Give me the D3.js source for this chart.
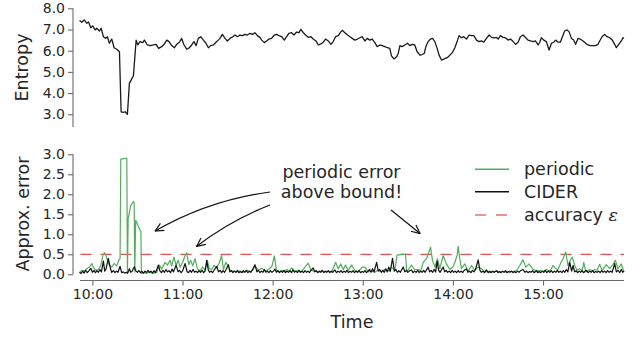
<!DOCTYPE html>
<html><head><meta charset="utf-8">
<script src="https://cdn.jsdelivr.net/npm/d3@7"></script>
<style>
html,body{margin:0;padding:0;background:#fff;}
svg{display:block;font-family:"DejaVu Sans",sans-serif;}
</style></head>
<body>
<svg id="chart" width="644" height="339"></svg>
<script>
// minutes relative to 10:00, value
const entropy = [[-8.6,7.42],[-7.1,7.34],[-5.5,7.45],[-3.7,7.29],[-2.6,7.36],[-1.1,7.08],[0.2,7.17],[1.8,6.98],[2.9,7.06],[4.7,6.93],[5.8,7.06],[7.3,6.66],[8.9,6.58],[10.0,6.66],[11.3,6.35],[12.9,6.55],[14.4,6.14],[16.2,6.07],[18.0,5.95],[19.1,3.12],[20.6,3.09],[21.8,3.12],[23.3,3.0],[24.6,4.46],[26.2,4.67],[27.3,4.82],[29.1,6.50],[30.2,6.27],[31.7,6.43],[33.5,6.38],[34.6,6.50],[36.6,6.27],[38.4,6.24],[40.6,6.27],[42.4,6.30],[44.1,6.11],[46.1,6.19],[47.7,6.30],[49.5,6.50],[51.0,6.43],[52.8,6.24],[54.6,6.14],[56.1,6.30],[57.9,6.40],[59.4,6.58],[61.0,6.27],[62.8,6.07],[64.5,6.14],[66.1,6.27],[67.6,6.43],[69.0,6.24],[70.5,6.58],[72.1,6.66],[73.9,6.50],[75.6,6.35],[77.2,6.14],[78.7,6.24],[80.5,6.27],[82.3,6.40],[83.8,6.50],[84.9,6.58],[86.5,6.77],[88.3,6.58],[89.8,6.46],[91.6,6.58],[93.4,6.66],[94.9,6.74],[96.5,6.66],[98.2,6.74],[100.0,6.71],[101.6,6.77],[103.1,6.74],[104.9,6.82],[106.4,6.77],[108.2,6.85],[109.8,6.71],[111.5,6.63],[112.7,6.50],[114.4,6.38],[116.0,6.46],[117.5,6.55],[119.3,6.58],[121.1,6.74],[122.6,6.77],[124.2,6.71],[126.0,6.66],[127.7,6.50],[129.3,6.66],[130.8,6.82],[132.6,6.85],[134.2,6.74],[135.9,6.88],[137.5,6.85],[138.8,7.01],[140.4,6.85],[141.9,6.74],[143.7,6.63],[145.5,6.66],[147.0,6.55],[148.8,6.46],[150.4,6.27],[152.1,6.32],[153.7,6.40],[155.2,6.55],[157.0,6.46],[158.8,6.30],[160.3,6.43],[161.9,6.66],[163.7,6.71],[165.0,6.85],[166.3,6.96],[168.1,6.85],[169.9,6.74],[171.4,6.66],[173.0,6.58],[174.7,6.50],[176.5,6.55],[178.1,6.61],[179.6,6.66],[181.4,6.46],[182.9,6.58],[184.7,6.50],[186.3,6.55],[188.0,6.38],[189.6,6.19],[191.4,6.27],[192.9,6.24],[194.7,6.19],[196.5,6.14],[198.0,6.11],[199.1,5.76],[200.7,5.61],[202.5,5.71],[203.6,5.87],[204.7,6.24],[206.2,6.19],[208.0,6.27],[209.8,6.35],[211.3,6.24],[212.9,6.30],[214.6,6.27],[216.2,5.95],[218.0,5.79],[219.5,5.82],[220.9,5.87],[222.0,6.19],[223.5,6.43],[225.1,6.55],[226.4,6.58],[228.0,6.43],[229.5,6.11],[230.8,5.79],[232.4,5.56],[234.2,5.61],[236.2,5.67],[238.0,5.79],[239.7,5.92],[241.3,6.14],[242.8,6.43],[244.1,6.71],[245.7,6.61],[247.2,6.66],[249.0,6.55],[250.8,6.74],[252.4,6.71],[253.9,6.71],[255.7,6.50],[257.4,6.43],[259.0,6.46],[260.6,6.40],[262.3,6.58],[264.1,6.74],[265.7,6.63],[267.2,6.61],[269.0,6.63],[270.1,6.55],[271.6,6.71],[273.4,6.63],[275.0,6.61],[276.7,6.50],[278.3,6.55],[280.1,6.43],[281.8,6.30],[283.4,6.40],[284.9,6.66],[286.7,6.74],[288.5,6.61],[290.0,6.50],[291.6,6.46],[293.4,6.43],[294.9,6.46],[296.7,6.27],[297.8,6.40],[298.9,6.61],[300.5,6.50],[302.2,6.43],[304.0,6.03],[305.6,6.35],[307.1,6.40],[308.4,6.50],[310.0,6.40],[311.5,6.40],[312.9,6.66],[314.4,6.93],[316.0,6.98],[317.3,6.90],[318.9,6.58],[320.4,6.50],[321.7,6.30],[323.3,6.58],[324.8,6.55],[326.6,6.46],[328.4,6.35],[329.9,6.27],[331.5,6.24],[333.3,6.24],[335.0,6.24],[336.6,6.30],[337.7,6.46],[339.3,6.66],[341.0,6.77],[342.6,6.66],[344.4,6.61],[346.1,6.50],[347.7,6.30],[348.8,6.14],[350.4,6.30],[352.1,6.46],[353.2,6.61],[353.9,6.58]];

const periodic = [[-8.6,0.04],[-7.1,0.10],[-5.5,0.08],[-3.7,0.14],[-2.0,0.18],[-0.4,0.27],[0.7,0.16],[2.5,0.10],[4.0,0.12],[5.6,0.22],[6.9,0.47],[8.0,0.54],[9.1,0.47],[10.2,0.31],[11.3,0.23],[12.9,0.18],[14.4,0.27],[16.2,0.21],[17.5,0.35],[18.4,0.39],[18.9,2.88],[22.4,2.90],[22.9,2.90],[23.3,0.02],[23.8,1.39],[25.5,1.72],[27.3,1.82],[27.8,1.80],[28.2,0.06],[28.8,1.35],[30.2,1.23],[31.7,1.10],[32.3,1.08],[32.6,0.02],[33.9,0.04],[36,0.03],[38.4,0.05],[40.5,0.03],[42.8,0.05],[44.6,0.23],[46.1,0.13],[48.4,0.30],[49.9,0.23],[51.7,0.35],[52.8,0.21],[54.3,0.43],[55.7,0.23],[57.2,0.35],[58.3,0.18],[60.1,0.30],[61.7,0.47],[62.8,0.54],[64.1,0.24],[65.4,0.35],[66.8,0.21],[68.3,0.39],[69.9,0.14],[71.6,0.08],[73.4,0.18],[75.0,0.10],[76.5,0.35],[77.8,0.14],[79.4,0.12],[80.9,0.22],[82.7,0.16],[84.5,0.29],[86.0,0.47],[87.2,0.12],[88.9,0.30],[90.5,0.18],[92.0,0.10],[93.8,0.08],[95.6,0.06],[98,0.08],[100.5,0.05],[103,0.10],[104.9,0.06],[107,0.12],[108.2,0.22],[110.4,0.10],[112.7,0.15],[115,0.08],[117.1,0.12],[119.5,0.20],[121.1,0.46],[122.6,0.10],[124.5,0.06],[126.0,0.10],[128,0.06],[129.3,0.12],[131,0.08],[132.6,0.16],[135,0.07],[137.0,0.10],[139,0.06],[141.5,0.18],[143.7,0.28],[145.5,0.10],[148.1,0.08],[150.5,0.05],[152.6,0.09],[155,0.06],[157,0.08],[159.2,0.05],[161.9,0.30],[163.7,0.14],[165.4,0.26],[167.0,0.12],[168.5,0.23],[170.3,0.10],[172.5,0.23],[174.7,0.10],[177,0.06],[179.6,0.18],[181.4,0.18],[183.6,0.06],[186,0.08],[188.0,0.05],[190,0.10],[192.5,0.06],[194.5,0.12],[196.9,0.08],[199.1,0.18],[201.3,0.10],[202.8,0.48],[206,0.50],[208.5,0.50],[209.1,0.10],[210.2,0.10],[212.4,0.23],[214.5,0.12],[216.9,0.12],[218.5,0.08],[220.2,0.30],[222.4,0.39],[224.0,0.55],[225.1,0.68],[226.4,0.35],[228.0,0.18],[229.7,0.39],[231.3,0.14],[233.5,0.47],[235.7,0.26],[237.9,0.12],[240,0.18],[241.3,0.30],[242.8,0.47],[243.5,0.70],[244.6,0.39],[245.7,0.14],[247.9,0.26],[250.1,0.08],[252.4,0.22],[254.6,0.10],[256.8,0.18],[259.0,0.14],[261.2,0.06],[264.5,0.08],[267,0.05],[269.0,0.08],[271.5,0.05],[273.4,0.07],[276,0.05],[277.8,0.08],[280,0.06],[282.5,0.10],[284.5,0.22],[286.7,0.36],[288.5,0.18],[290.7,0.26],[293.4,0.12],[296,0.08],[297.8,0.10],[300,0.07],[302.2,0.12],[304.5,0.08],[306.7,0.22],[308.5,0.14],[310.0,0.12],[312,0.30],[313.3,0.39],[315.1,0.56],[316.6,0.22],[318.2,0.35],[319.5,0.43],[321.1,0.22],[322.6,0.10],[324.4,0.14],[326,0.08],[327.1,0.30],[328.4,0.06],[331.1,0.12],[333,0.08],[334.4,0.12],[336,0.10],[337.7,0.25],[339.3,0.10],[342.1,0.24],[344.4,0.14],[346.6,0.25],[348.1,0.35],[349.9,0.14],[352.1,0.26],[353.9,0.05]];

const cider = [[-8.6,0.05],[-7.5,0.02],[-6.5,0.08],[-5.5,0.03],[-4.5,0.10],[-3.5,0.04],[-2.5,0.08],[-1.1,0.15],[0,0.05],[1,0.10],[2,0.04],[3,0.09],[4,0.05],[5,0.12],[6,0.06],[7.3,0.33],[8.2,0.08],[9.1,0.14],[10.6,0.40],[11.8,0.18],[12.8,0.05],[14,0.09],[15,0.04],[16,0.08],[17,0.05],[18.4,0.20],[19.5,0.04],[20.5,0.06],[21.5,0.03],[22.5,0.05],[23.5,0.03],[24.6,0.14],[25.5,0.05],[26.5,0.08],[27.9,0.19],[29,0.08],[30,0.05],[31,0.09],[32,0.04],[33,0.07],[34,0.03],[35,0.08],[36,0.04],[37,0.10],[38,0.05],[39,0.08],[40,0.03],[41,0.09],[42,0.04],[43.9,0.23],[45,0.08],[46,0.04],[47,0.10],[48,0.05],[49,0.12],[50,0.06],[51,0.09],[52,0.04],[53,0.13],[54,0.06],[55.7,0.23],[57,0.06],[58,0.10],[59,0.04],[60,0.08],[61.7,0.27],[63,0.07],[64,0.04],[65,0.10],[66,0.05],[67,0.12],[68,0.05],[69,0.08],[70,0.04],[71,0.09],[72,0.05],[73,0.10],[74,0.04],[75,0.08],[76.1,0.35],[77.2,0.10],[78,0.05],[79,0.08],[80,0.04],[81,0.10],[82.7,0.20],[84,0.06],[85,0.10],[86,0.04],[87,0.09],[88,0.05],[89,0.12],[90.5,0.24],[91.5,0.06],[92.5,0.09],[93.5,0.04],[94.5,0.08],[95.5,0.05],[96.5,0.10],[97.5,0.04],[98.5,0.07],[99.5,0.04],[100.5,0.09],[101.5,0.05],[102.5,0.10],[103.5,0.04],[104.5,0.08],[105.5,0.05],[106.5,0.11],[108.2,0.24],[109.5,0.06],[110.5,0.10],[111.5,0.04],[112.5,0.08],[113.5,0.05],[114.5,0.12],[115.5,0.05],[116.5,0.08],[117.5,0.04],[118.5,0.09],[119.5,0.05],[120.5,0.08],[121.5,0.13],[122.5,0.05],[123.5,0.09],[124.5,0.04],[125.5,0.08],[126.5,0.05],[127.5,0.10],[128.5,0.04],[129.5,0.08],[130.5,0.05],[131.5,0.09],[132.5,0.04],[133.5,0.11],[134.5,0.05],[135.5,0.08],[136.5,0.04],[137.5,0.10],[138.5,0.05],[139.5,0.08],[140.5,0.04],[141.5,0.09],[142.5,0.05],[143.5,0.08],[144.5,0.04],[145.5,0.10],[147,0.16],[148,0.06],[149,0.09],[150,0.04],[151,0.08],[152,0.05],[153,0.10],[154,0.04],[155,0.08],[156,0.05],[157,0.09],[158,0.04],[159,0.08],[160,0.05],[161.4,0.11],[162.5,0.04],[163.5,0.08],[164.5,0.05],[165.5,0.09],[166.5,0.04],[167.5,0.08],[168.5,0.05],[169.5,0.10],[170.5,0.04],[171.5,0.08],[172.5,0.05],[173.5,0.09],[174.5,0.04],[175.5,0.08],[176.5,0.05],[177.5,0.10],[178.5,0.04],[179.5,0.07],[180.5,0.05],[181.5,0.09],[182.5,0.04],[183.5,0.08],[184.5,0.12],[185.5,0.05],[186.5,0.14],[187.5,0.06],[189.2,0.30],[190.3,0.08],[191.3,0.12],[192.3,0.05],[193.3,0.10],[194.3,0.05],[195.3,0.14],[196.3,0.06],[197.3,0.18],[198.3,0.07],[199.8,0.40],[201,0.08],[202,0.12],[203,0.05],[204,0.09],[205,0.05],[206.9,0.18],[208,0.06],[209,0.10],[210,0.05],[211,0.08],[212.4,0.11],[213.5,0.04],[214.5,0.08],[215.5,0.05],[216.5,0.10],[217.5,0.04],[218.5,0.08],[219.5,0.05],[220.5,0.10],[221.5,0.05],[223.5,0.18],[224.5,0.06],[225.5,0.10],[226.5,0.05],[227.5,0.12],[228.5,0.06],[229.5,0.33],[230.5,0.10],[231.5,0.05],[232.5,0.12],[233.5,0.18],[234.5,0.06],[235.5,0.10],[236.5,0.05],[237.5,0.08],[238.5,0.04],[239.5,0.10],[240.5,0.05],[241.5,0.08],[242.5,0.04],[243.5,0.09],[244.5,0.05],[245.5,0.08],[246.5,0.04],[247.5,0.10],[249,0.13],[250,0.05],[251,0.08],[252,0.04],[253,0.10],[254,0.06],[255,0.12],[256.8,0.36],[258,0.10],[259,0.05],[260,0.08],[261,0.04],[262.3,0.11],[263.5,0.04],[264.5,0.07],[265.5,0.04],[266.5,0.08],[267.5,0.05],[269,0.09],[270,0.04],[271,0.07],[272,0.04],[273,0.08],[274,0.05],[275,0.09],[276,0.04],[277,0.07],[278,0.05],[279,0.08],[280,0.04],[281,0.07],[282,0.04],[283,0.08],[284,0.05],[285,0.09],[286.7,0.12],[288,0.05],[289,0.08],[290,0.04],[291,0.07],[292,0.05],[293,0.09],[294,0.04],[295.6,0.09],[296.5,0.04],[297.5,0.07],[298.5,0.04],[299.5,0.08],[300.5,0.05],[301.5,0.10],[302.5,0.04],[303.5,0.08],[304.5,0.05],[305.5,0.09],[306.5,0.04],[307.5,0.08],[308.5,0.05],[309.5,0.10],[310.5,0.05],[311.5,0.08],[312.5,0.04],[313.5,0.09],[314.5,0.05],[315.5,0.12],[316.5,0.06],[317.8,0.30],[319,0.08],[320,0.22],[321,0.06],[322,0.09],[323,0.04],[324,0.08],[325,0.05],[326,0.09],[327,0.04],[328.8,0.10],[330,0.04],[331,0.08],[332,0.05],[333,0.09],[334,0.04],[335,0.07],[336,0.05],[337,0.08],[338,0.04],[339,0.09],[340,0.05],[341,0.08],[342,0.04],[343,0.09],[344,0.05],[345,0.08],[346,0.05],[347.7,0.27],[348.8,0.06],[350,0.10],[351,0.04],[352.1,0.12],[353,0.05],[353.9,0.08]];

const accuracy = 0.5;
const entropyTicks = [3,4,5,6,7,8];
const errorTicks = [0,0.5,1,1.5,2,2.5,3];
const seriesNames = ["periodic","CIDER","accuracy "];
const annotationLines = ["periodic error","above bound!"];
const arrowTargets = [[41.7,1.08],[69.4,0.70],[218.1,1.02]]; // [minute, error] points the arrows touch

const base = new Date(2000,0,1,10,0,0);
const toDate = m => new Date(base.getTime() + m*60000);

const svg = d3.select("#chart");
const textCol = "#262626", spineCol = "#6b6b6b";
const green = "#52ad5c", red = "#d9363a";

const x = d3.scaleTime().domain([toDate(-8.6), toDate(353.9)]).range([79.5, 624]);
const yTop = d3.scaleLinear().domain([3,8]).range([114.3, 8.3]);
const yBot = d3.scaleLinear().domain([0,3]).range([274.3, 154.3]);

// ---- top panel axis
const gTop = svg.append("g").attr("transform","translate(73,0)")
  .call(d3.axisLeft(yTop).tickValues(entropyTicks).tickFormat(d3.format(".1f")).tickSize(5).tickSizeOuter(0));
gTop.select(".domain").remove();
gTop.append("line").attr("x1",0).attr("x2",0).attr("y1",yTop(8)).attr("y2",127).attr("stroke",spineCol).attr("stroke-width",1.1);

// ---- bottom panel axes
const gBot = svg.append("g").attr("transform","translate(73,0)")
  .call(d3.axisLeft(yBot).tickValues(errorTicks).tickFormat(d3.format(".1f")).tickSize(5).tickSizeOuter(0));
gBot.select(".domain").remove();
gBot.append("line").attr("x1",0).attr("x2",0).attr("y1",yBot(3)).attr("y2",yBot(0)).attr("stroke",spineCol).attr("stroke-width",1.1);

const gX = svg.append("g").attr("transform","translate(0,280.5)")
  .call(d3.axisBottom(x).ticks(d3.timeHour.every(1)).tickFormat(d3.timeFormat("%H:%M")).tickSize(5).tickSizeOuter(0));
gX.select(".domain").remove();
gX.append("line").attr("x1",80).attr("x2",624).attr("y1",0).attr("y2",0).attr("stroke",spineCol).attr("stroke-width",1.1);

[gTop,gBot,gX].forEach(g=>{
  g.selectAll(".tick line").attr("stroke",spineCol).attr("stroke-width",1.1);
  g.selectAll(".tick text").attr("fill",textCol).style("font-size","14px").style("font-family","DejaVu Sans");
});
gTop.selectAll(".tick text").attr("x",-8);
gBot.selectAll(".tick text").attr("x",-8);
gX.selectAll(".tick text").attr("y",9);

// ---- axis labels
svg.append("text").attr("transform","translate(21.5,67.5) rotate(-90)").attr("text-anchor","middle")
  .attr("dominant-baseline","central").attr("fill",textCol).style("font-size","17.5px").text("Entropy");
svg.append("text").attr("transform","translate(23,214) rotate(-90)").attr("text-anchor","middle")
  .attr("dominant-baseline","central").attr("fill",textCol).style("font-size","17.5px").text("Approx. error");
svg.append("text").attr("x",352).attr("y",322).attr("text-anchor","middle")
  .attr("dominant-baseline","central").attr("fill",textCol).style("font-size","17.5px").text("Time");

// ---- lines
const lineTop = d3.line().x(d=>x(toDate(d[0]))).y(d=>yTop(d[1]));
const lineBot = d3.line().x(d=>x(toDate(d[0]))).y(d=>yBot(d[1]));

svg.append("path").datum(entropy).attr("d",lineTop).attr("fill","none").attr("stroke","#1a1a1a").attr("stroke-width",1.3).attr("stroke-linejoin","round");

svg.append("line").attr("x1",x.range()[0]+1).attr("x2",624).attr("y1",yBot(accuracy)).attr("y2",yBot(accuracy))
  .attr("stroke",red).attr("stroke-width",1.2).attr("stroke-dasharray","11,9").attr("opacity",0.85);
svg.append("path").datum(periodic).attr("d",lineBot).attr("fill","none").attr("stroke",green).attr("stroke-width",1.2).attr("stroke-linejoin","round");
svg.append("path").datum(cider).attr("d",lineBot).attr("fill","none").attr("stroke","#111").attr("stroke-width",1.2).attr("stroke-linejoin","round");

// ---- legend
const legY = [169.3,191.7,215];
const legStyles = [{c:green,d:null,o:1},{c:"#111",d:null,o:1},{c:red,d:"11,10",o:0.7}];
seriesNames.forEach((n,i)=>{
  svg.append("line").attr("x1",475).attr("x2",509).attr("y1",legY[i]).attr("y2",legY[i])
    .attr("stroke",legStyles[i].c).attr("stroke-width",1.4).attr("stroke-dasharray",legStyles[i].d).attr("opacity",legStyles[i].o);
  const t = svg.append("text").attr("x",524).attr("y",legY[i]).attr("dominant-baseline","central").attr("fill",textCol)
    .style("font-size","17.5px").text(n);
  if(i===2) t.append("tspan").style("font-family","DejaVu Serif").style("font-style","italic").text("ε");
});

// ---- annotation
annotationLines.forEach((t,i)=>{
  svg.append("text").attr("x",341.5).attr("y",171.7+i*20).attr("text-anchor","middle").attr("dominant-baseline","central")
    .attr("fill",textCol).style("font-size","17.5px").text(t);
});
svg.append("defs").append("marker").attr("id","ah").attr("viewBox","0 0 10 10").attr("refX",9.5).attr("refY",5)
  .attr("markerWidth",10).attr("markerHeight",10).attr("markerUnits","userSpaceOnUse").attr("orient","auto")
  .append("path").attr("d","M1,1 L9.5,5 L1,9").attr("fill","none").attr("stroke","#111").attr("stroke-width",1.2);
const starts = [[270,192],[270,205],[391,210]];
const bows = [12,6,0];
arrowTargets.forEach((tg,i)=>{
  const ex = x(toDate(tg[0])), ey = yBot(tg[1]);
  const [sx,sy] = starts[i];
  const mx=(sx+ex)/2, my=(sy+ey)/2, dx=ex-sx, dy=ey-sy, L=Math.hypot(dx,dy);
  let px=dy/L, py=-dx/L; if(py>0){px=-px;py=-py;}
  const cx=mx+px*bows[i], cy=my+py*bows[i];
  svg.append("path").attr("d",`M${sx},${sy} Q${cx},${cy} ${ex},${ey}`).attr("fill","none")
    .attr("stroke","#111").attr("stroke-width",1.2).attr("marker-end","url(#ah)");
});
</script>
</body></html>
